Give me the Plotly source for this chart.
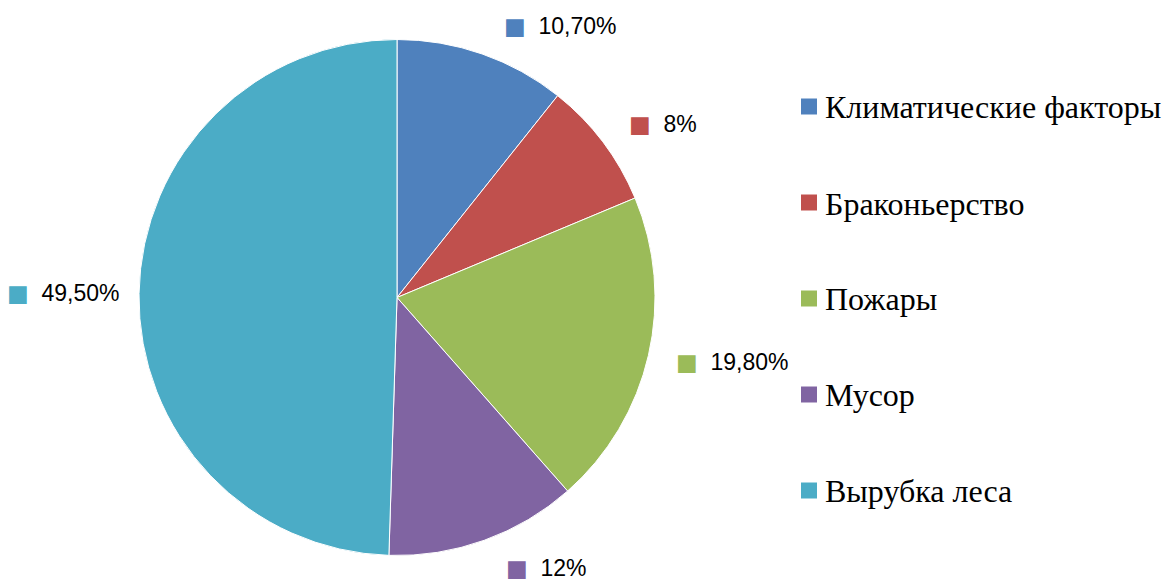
import math
import plotly.graph_objects as go

categories = ["Климатические факторы", "Браконьерство", "Пожары", "Мусор", "Вырубка леса"]
values = [10.7, 8, 19.8, 12, 49.5]
value_labels = ["10,70%", "8%", "19,80%", "12%", "49,50%"]
colors = ["#4F81BD", "#C0504D", "#9BBB59", "#8064A2", "#4BACC6"]

W, H = 1163, 580
CX, CY, R = 397, 297.5, 258

def px(x):
    return x / W

def py(y):
    return 1 - y / H

fig = go.Figure(go.Pie(
    labels=categories,
    values=values,
    sort=False,
    direction="clockwise",
    rotation=0,
    textinfo="none",
    hoverinfo="label+percent",
    marker=dict(colors=colors, line=dict(color="white", width=1)),
    domain=dict(x=[px(CX - R), px(CX + R)], y=[py(CY + R), py(CY - R)]),
    showlegend=False,
))

annotations = []
shapes = []

# data labels placed outside the slices
total = sum(values)
cum = 0
for v, lab, c in zip(values, value_labels, colors):
    mid = (cum + v / 2) / total * 2 * math.pi
    cum += v
    s, co = math.sin(mid), math.cos(mid)
    ex, ey = CX + R * s, CY - R * co
    gap = 17 + 9 * max(s, 0)
    if s >= 0:
        lx, anchor = ex + gap, "left"
    else:
        lx, anchor = ex - gap, "right"
    ly = ey - co * 30
    annotations.append(dict(
        x=px(lx), y=py(ly), xref="paper", yref="paper",
        xanchor=anchor, yanchor="middle", showarrow=False,
        text=f'<span style="font-family:DejaVu Sans;font-size:23px;color:{c}">■</span>\u00a0 {lab}',
        font=dict(family="Liberation Sans", size=23, color="black"),
    ))

# legend drawn manually
LX, LY0, LDY, SQ = 801, 106.5, 96, 16
for i, (cat, c) in enumerate(zip(categories, colors)):
    yc = LY0 + i * LDY
    shapes.append(dict(type="rect", xref="paper", yref="paper",
                       x0=px(LX), x1=px(LX + SQ), y0=py(yc + SQ / 2), y1=py(yc - SQ / 2),
                       fillcolor=c, line=dict(width=0)))
    annotations.append(dict(
        x=px(LX + SQ + 6), y=py(yc + 1), xref="paper", yref="paper",
        xanchor="left", yanchor="middle", showarrow=False,
        text=cat, font=dict(family="Liberation Serif", size=32, color="black"),
    ))

fig.update_layout(
    width=W, height=H,
    margin=dict(l=0, r=0, t=0, b=0),
    paper_bgcolor="white", plot_bgcolor="white",
    annotations=annotations, shapes=shapes,
)

fig.write_html("out.html")
